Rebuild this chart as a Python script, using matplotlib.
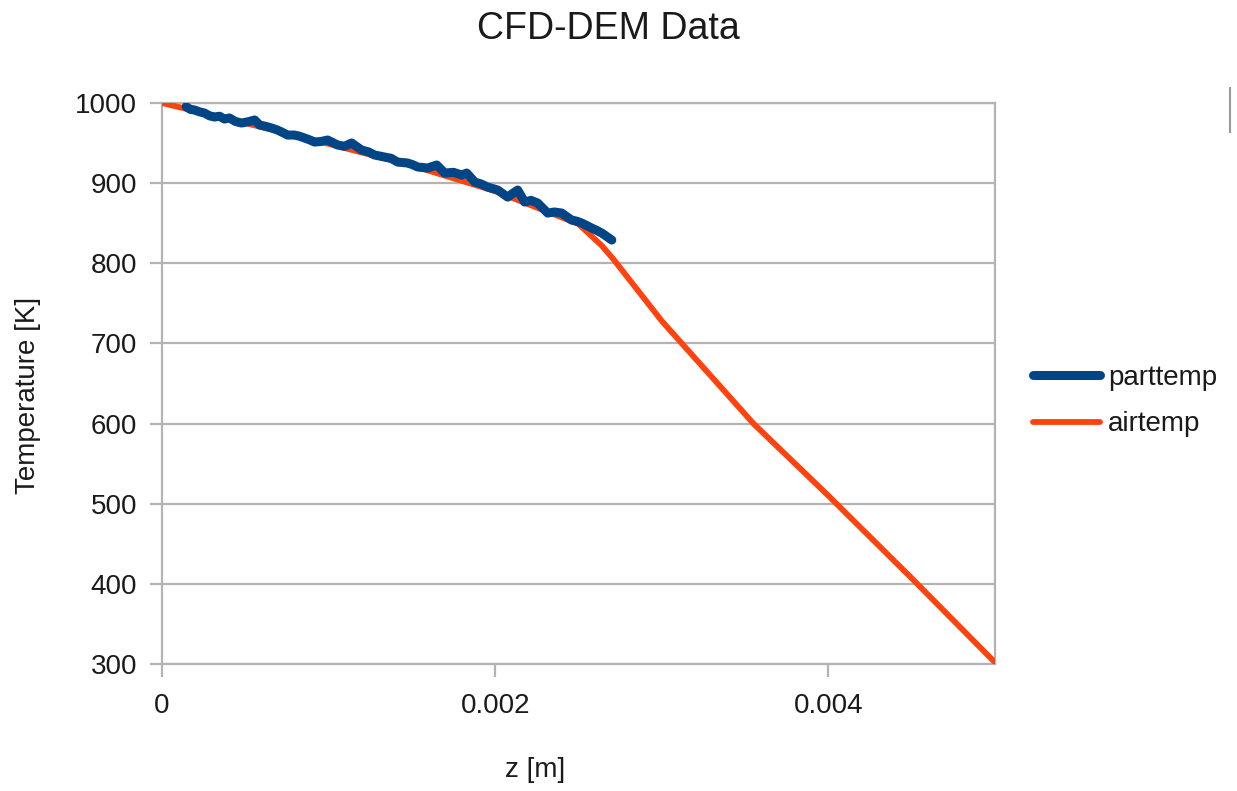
import matplotlib
matplotlib.use("Agg")
import matplotlib.pyplot as plt
from matplotlib.lines import Line2D

plt.rcParams['font.family'] = ['Liberation Sans', 'DejaVu Sans']

# particle temperature (noisy)
part_z = [0.000145, 0.000170, 0.000195, 0.000225, 0.000255, 0.000285, 0.000315, 0.000345,
          0.000375, 0.000405, 0.000440, 0.000477, 0.000515, 0.000556, 0.000586, 0.000620,
          0.000658, 0.000690, 0.000718, 0.000754, 0.000796, 0.000826, 0.000856, 0.000886,
          0.000916, 0.000955, 0.000994, 0.001054, 0.001095, 0.001138, 0.001198, 0.001240,
          0.001276, 0.001336, 0.001375, 0.001414, 0.001474, 0.001505, 0.001535, 0.001595,
          0.001649, 0.001697, 0.001750, 0.001799, 0.001829, 0.001877, 0.001915, 0.001955,
          0.002015, 0.002075, 0.002117, 0.002135, 0.002177, 0.002215, 0.002255, 0.002315,
          0.002355, 0.002399, 0.002459, 0.002490, 0.002520, 0.002580, 0.002610, 0.002640,
          0.002700]
part_T = [995.4, 992.0, 991.3, 989.0, 987.5, 984.0, 982.5, 983.5,
          980.0, 981.3, 977.0, 975.0, 976.5, 978.8, 972.5, 971.0,
          968.8, 966.5, 963.8, 960.0, 960.0, 958.5, 956.3, 954.0,
          951.3, 952.0, 953.8, 947.6, 946.0, 950.1, 941.3, 939.0,
          935.1, 932.6, 931.0, 926.3, 925.1, 923.0, 920.1, 918.9,
          922.6, 912.6, 913.5, 910.1, 912.6, 901.4, 899.0, 895.1,
          891.4, 882.6, 888.9, 891.4, 876.4, 878.5, 875.2, 862.7,
          864.0, 862.7, 853.9, 852.5, 850.2, 843.9, 841.0, 837.7,
          829.0]

# air temperature
air_z = [0.0, 0.0005, 0.001, 0.0015, 0.002, 0.0025, 0.00264, 0.00271, 0.003,
         0.00355, 0.004, 0.0045, 0.005]
air_T = [1000, 975, 949, 922, 890, 849, 822, 805, 728, 600, 510, 407, 302]

title = "CFD-DEM Data"
xlabel = "z [m]"
ylabel = "Temperature [K]"
xticks = [0, 0.002, 0.004]
xticklabels = ["0", "0.002", "0.004"]
yticks = [300, 400, 500, 600, 700, 800, 900, 1000]

BLUE = "#004586"
ORANGE = "#FF420E"
GRID = "#b3b3b3"
TXT = "#1a1a1a"

fig = plt.figure(figsize=(12.37, 7.91), dpi=100)
ax = fig.add_axes([162 / 1237, 1 - 664 / 791, (995 - 162) / 1237, (664 - 103) / 791])

ax.plot(air_z, air_T, color=ORANGE, lw=4.2, solid_capstyle='round', zorder=3, label="airtemp")
ax.plot(part_z, part_T, color=BLUE, lw=6.5, solid_capstyle='round', solid_joinstyle='round',
        zorder=4, label="parttemp")

ax.set_xlim(0, 0.005)
ax.set_ylim(300, 1000)
ax.set_xticks(xticks)
ax.set_xticklabels(xticklabels)
ax.set_yticks(yticks)
ax.yaxis.grid(True, color=GRID, lw=1.6)
ax.xaxis.grid(False)
ax.set_axisbelow(True)
for s in ax.spines.values():
    s.set_color(GRID)
    s.set_linewidth(1.6)
ax.tick_params(axis='both', colors=GRID, length=9, width=1.6, labelcolor=TXT,
               labelsize=20)
ax.tick_params(axis='y', pad=9)
ax.tick_params(axis='x', pad=12)

fig.text(535 / 1237, 1 - 770 / 791, xlabel, ha='center', va='center', fontsize=20, color=TXT)
fig.text(28 / 1237, 1 - 395 / 791, ylabel, ha='center', va='center', rotation=90,
         fontsize=20, color=TXT)
fig.text(608 / 1237, 1 - 29 / 791, title, ha='center', va='center', fontsize=27, color=TXT)

handles, labels = ax.get_legend_handles_labels()
order = [1, 0]
leg = fig.legend([handles[i] for i in order], [labels[i] for i in order],
                 loc='center left', bbox_to_anchor=(1008 / 1237, 1 - 401 / 791),
                 frameon=False, fontsize=20, handlelength=2.4, handletextpad=0.3,
                 labelspacing=0.75)
for t in leg.get_texts():
    t.set_color(TXT)

fig.add_artist(Line2D([1230 / 1237, 1230 / 1237], [1 - 88 / 791, 1 - 132 / 791],
                      color='#999999', lw=1.5))

fig.savefig("out.png", dpi=100)
